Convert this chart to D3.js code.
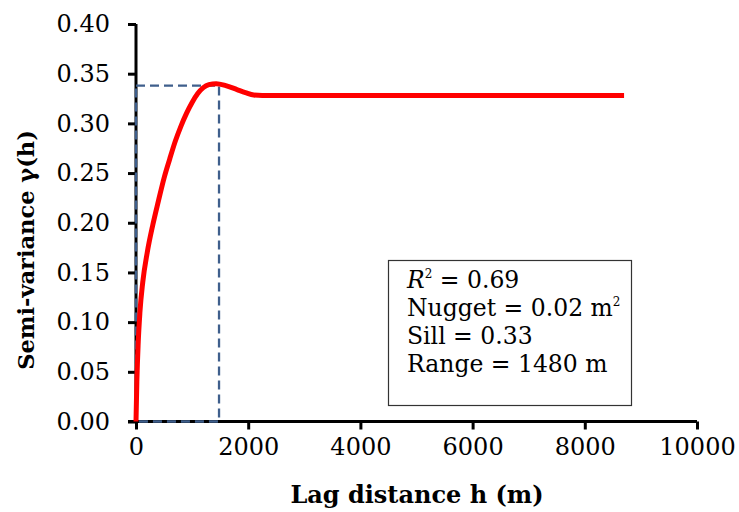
<!DOCTYPE html>
<html>
<head>
<meta charset="utf-8">
<script src="https://cdn.jsdelivr.net/npm/d3@7"></script>
<style>
  body { margin: 0; background: #fff; }
  text { font-family: "DejaVu Serif", serif; }
</style>
</head>
<body>
<div id="chart"></div>
<script>
// fitted variogram curve
const lag = [0, 15, 40, 70, 120, 200, 300, 400, 500, 600, 700, 800, 900, 1000, 1100, 1200, 1300, 1430, 1600, 1800, 1950, 2100, 2250, 8700]
const gamma = [0, 0.04, 0.08, 0.11, 0.14, 0.17, 0.198, 0.222, 0.245, 0.264, 0.282, 0.297, 0.310, 0.321, 0.330, 0.336, 0.339, 0.340, 0.338, 0.334, 0.331, 0.3285, 0.328, 0.328]
const rangeLag = 1480
const sillLine = 0.338
const xTicks = [0, 2000, 4000, 6000, 8000, 10000]
const yTicks = [0, 0.05, 0.10, 0.15, 0.20, 0.25, 0.30, 0.35, 0.40]
const statLines = [
    {label: "R", sup: "2", rest: " = 0.69", italic: true},
    {label: "Nugget = 0.02 m", sup: "2", rest: ""},
    {label: "Sill = 0.33", sup: "", rest: ""},
    {label: "Range = 1480 m", sup: "", rest: ""}
]

const width = 739
const height = 512
const padLeft = 136, padRight = 697, padTop = 24, padBottom = 421.5

const svg = d3.select("#chart").append("svg")
    .attr("width", width)
    .attr("height", height)

const xScale = d3.scaleLinear().domain([0, 10000]).range([padLeft, padRight])
const yScale = d3.scaleLinear().domain([0, 0.40]).range([padBottom, padTop])

const xAxis = d3.axisBottom(xScale).tickValues(xTicks).tickFormat(d3.format("d")).tickSize(8).tickPadding(8)
const yAxis = d3.axisLeft(yScale).tickValues(yTicks).tickFormat(d3.format(".2f")).tickSize(8).tickPadding(18)

const gx = svg.append("g")
    .attr("transform", `translate(0,${padBottom})`)
    .call(xAxis)
const gy = svg.append("g")
    .attr("transform", `translate(${padLeft},0)`)
    .call(yAxis)

for (const g of [gx, gy]) {
    g.select(".domain").attr("stroke", "#000").attr("stroke-width", 3)
    g.selectAll(".tick line").attr("stroke", "#000").attr("stroke-width", 3)
    g.selectAll(".tick text").attr("fill", "#000")
        .style("font-family", "'DejaVu Serif', serif").style("font-size", "24px")
}
gx.select(".domain").attr("d", `M${padLeft - 8},0H${padRight}`)
gy.select(".domain").attr("d", `M0,${padTop}V${padBottom}`)

// dashed range / sill box
const dash = svg.append("g")
    .attr("fill", "none")
    .attr("stroke", "#3f5f8c")
    .attr("stroke-width", 2.3)
    .attr("stroke-dasharray", "9,5")
dash.append("path").attr("d",
    `M${xScale(0)},${yScale(sillLine)}H${xScale(rangeLag)}V${yScale(0)}H${xScale(0)}Z`)

const line = d3.line()
    .x((d, i) => xScale(lag[i]))
    .y(d => yScale(d))
    .curve(d3.curveMonotoneX)

svg.append("path")
    .datum(gamma)
    .attr("fill", "none")
    .attr("stroke", "#ff0000")
    .attr("stroke-width", 5)
    .attr("stroke-linejoin", "round")
    .attr("d", line)

// stats box
svg.append("rect")
    .attr("x", 388.5).attr("y", 260.5)
    .attr("width", 243).attr("height", 145)
    .attr("fill", "#fff")
    .attr("stroke", "#333")
    .attr("stroke-width", 1.2)

const stat = svg.append("g").style("font-size", "23.5px")
statLines.forEach((s, i) => {
    const t = stat.append("text")
        .attr("x", 407)
        .attr("y", 288 + i * 28)
        .attr("fill", "#000")
    t.append("tspan").text(s.label).style("font-style", s.italic ? "italic" : "normal")
    if (s.sup) t.append("tspan").text(s.sup).attr("dy", -10).style("font-size", "12px")
    if (s.rest) t.append("tspan").text(s.rest).attr("dy", 10)
})

svg.append("text")
    .attr("x", 417)
    .attr("y", 503)
    .attr("text-anchor", "middle")
    .style("font-size", "24px")
    .style("font-weight", "bold")
    .text("Lag distance h (m)")

svg.append("text")
    .attr("transform", `translate(34,250) rotate(-90)`)
    .attr("text-anchor", "middle")
    .style("font-size", "22.5px")
    .style("font-weight", "bold")
    .text("Semi-variance γ(h)")
</script>
</body>
</html>
